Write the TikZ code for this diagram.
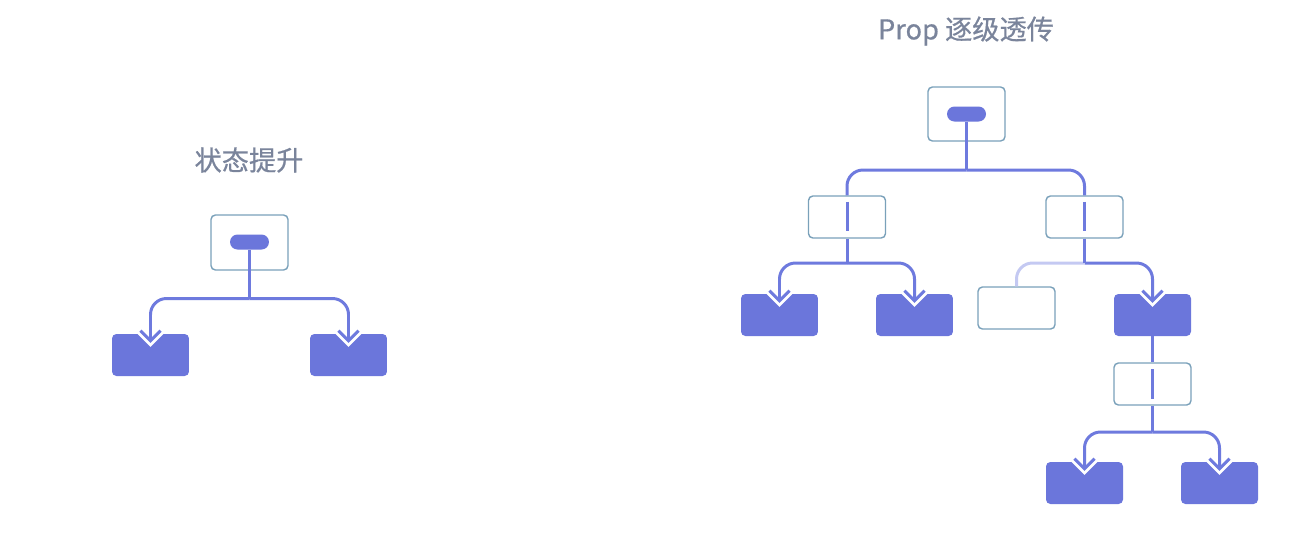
\documentclass[tikz,border=0pt]{standalone}
\usepackage{fontspec}
\newfontfamily\cjk[FakeBold=0.6]{Noto Sans CJK SC}

\definecolor{flowc}{HTML}{6E7ADE}
\definecolor{compc}{HTML}{6B76DB}
\definecolor{framec}{HTML}{7AA1BA}
\definecolor{fadec}{HTML}{C4C9F2}
\definecolor{titlec}{HTML}{7A849B}

\tikzset{
  frame/.style={rectangle, draw=framec, line width=0.8pt, fill=white, rounded corners=2.5pt,
    minimum width=1.54cm, minimum height=0.84cm, inner sep=0pt},
  comp/.style={rectangle, fill=compc, rounded corners=2.5pt,
    minimum width=1.54cm, minimum height=0.84cm, inner sep=0pt},
  pill/.style={rectangle, fill=compc, rounded corners=0.15cm,
    minimum width=0.78cm, minimum height=0.3cm, inner sep=0pt},
  flow/.style={draw=flowc, line width=1.7pt, rounded corners=0.32cm},
  rim/.style={draw=white, line width=5pt},
  title/.style={text=titlec, font=\cjk\fontsize{15.5pt}{18pt}\selectfont}
}

\begin{document}
\begin{tikzpicture}[x=0.02cm, y=-0.02cm]
        \useasboundingbox (0,0) rectangle (1306,549);

        % titles
        \node[title] (ltitle) at (249,160) {状态提升};
        \node[title] (rtitle) at (966,31)  {Prop 逐级透传};

        % state lifted to the parent
        \node[frame, minimum height=1.1cm] (lroot) at (249.5,242.5) {};
        \node[pill] (lpill) at (249.5,242) {};
        \coordinate (lhub) at (249.5,298.5);
        \node[comp] (l1) at (150.5,355) {};
        \node[comp] (l2) at (348.5,355) {};

        % props passed level by level
        \node[frame, minimum height=1.08cm] (rroot) at (966.5,114) {};
        \node[pill] (rpill) at (966.5,114) {};
        \coordinate (rhub) at (966.5,170);

        \node[frame] (ma) at (847,217) {};
        \node[frame] (mb) at (1084.5,217) {};
        \coordinate (ahub) at (847,263);
        \coordinate (bhub) at (1084.5,263);

        \node[comp]  (a1) at (779.5,315) {};
        \node[comp]  (a2) at (914.5,315) {};
        \node[frame] (e)  at (1016.5,308) {};
        \node[comp]  (c)  at (1152.5,315) {};

        \node[frame] (md) at (1152.5,384) {};
        \coordinate (dhub) at (1152.5,432);
        \node[comp]  (d1) at (1084.5,483) {};
        \node[comp]  (d2) at (1219.5,483) {};

        % arrow tips reach into the child, with a white rim
        \foreach \h/\t in {lhub/l1, lhub/l2, ahub/a1, ahub/a2, bhub/c, dhub/d1, dhub/d2} {
          \coordinate (\t-tip) at ([yshift=-0.14cm]\t.north);
          \draw[flow, rim] (\h) -| (\t-tip);
          \draw[rim] ([shift={(-10,-10)}]\t-tip) -- (\t-tip) -- ([shift={(10,-10)}]\t-tip);
        }

        \foreach \h/\t in {lhub/l1, lhub/l2, ahub/a1, ahub/a2, bhub/c, dhub/d1, dhub/d2} {
          \draw[flow] (\h) -| (\t-tip);
          \draw[flow, sharp corners] ([shift={(-10,-10)}]\t-tip) -- (\t-tip) -- ([shift={(10,-10)}]\t-tip);
        }

        \draw[flow] (lpill.south) -- (lhub);

        \draw[flow] (rhub) -| (ma.north);
        \draw[flow] (rhub) -| (mb.north);
        \draw[flow] (rpill.south) -- (rhub);

        \draw[flow] ([yshift=-0.13cm]ma.north) -- ([yshift=0.15cm]ma.south);
        \draw[flow] ([yshift=-0.13cm]mb.north) -- ([yshift=0.15cm]mb.south);
        \draw[flow] ([yshift=-0.14cm]md.north) -- ([yshift=0.14cm]md.south);

        \draw[flow] (ma.south) -- (ahub);
        \draw[flow, draw=fadec] (bhub) -| (e.north);
        \draw[flow] (mb.south) -- (bhub);
        \draw[flow] (c.south) -- (md.north);
        \draw[flow] (md.south) -- (dhub);

      \end{tikzpicture}
\end{document}
